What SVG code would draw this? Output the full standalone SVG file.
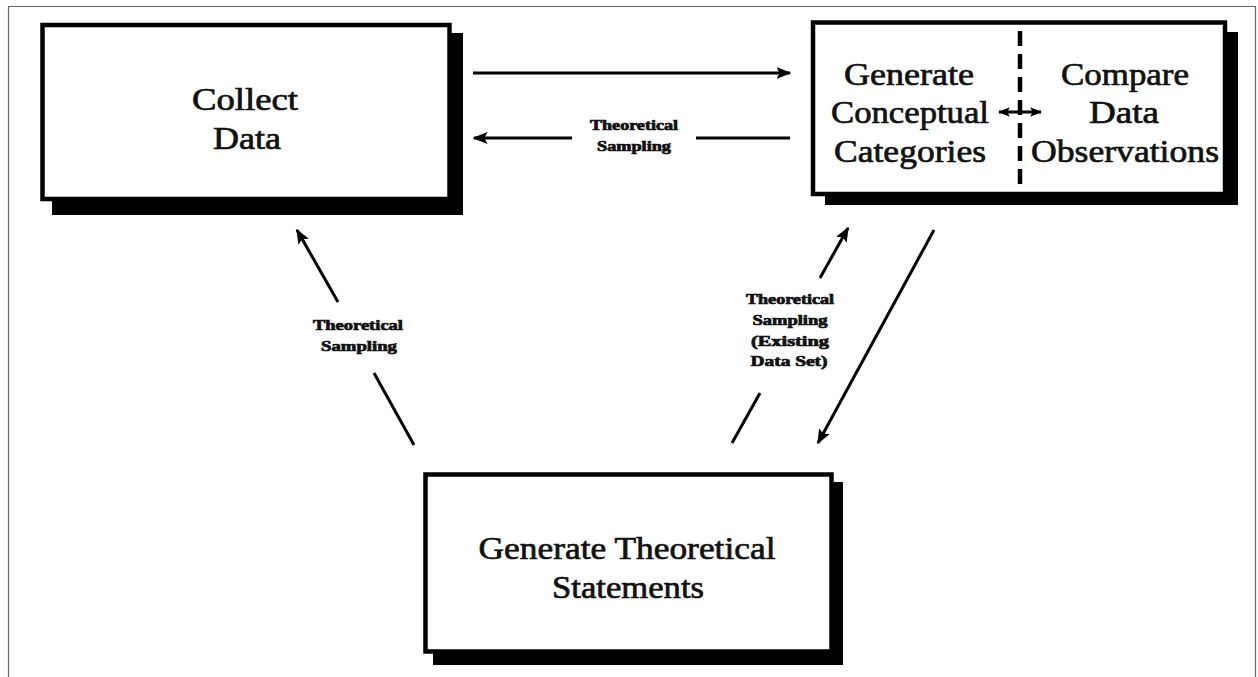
<svg xmlns="http://www.w3.org/2000/svg" width="1258" height="677" viewBox="0 0 1258 677">
  <defs>
    <style>
      .frame { fill: none; stroke: #6a6a6a; stroke-width: 1.2; }
      .box { fill: #fff; stroke: #000; stroke-width: 4.5; }
      .shadow { fill: #000; }
      .main { font-family: "Liberation Serif", "Times New Roman", serif; font-size: 32px; fill: #111; stroke: #111; stroke-width: 0.7; text-anchor: middle; }
      .lbl { font-family: "Liberation Serif", "Times New Roman", serif; font-weight: bold; font-size: 14px; fill: #111; stroke: #111; stroke-width: 0.7; text-anchor: middle; }
      .conn { fill: none; stroke: #000; stroke-width: 3; }
      .divider { stroke: #000; stroke-width: 4.5; stroke-dasharray: 15 8; }
    </style>
    <marker id="head" viewBox="0 0 10 10" refX="9" refY="5" markerWidth="5" markerHeight="5" orient="auto" markerUnits="strokeWidth">
      <path d="M0,1 L10,5 L0,9 L2,5 z" fill="#000"/>
    </marker>
    <marker id="headSmall" viewBox="0 0 10 10" refX="9" refY="5" markerWidth="4" markerHeight="4" orient="auto-start-reverse" markerUnits="strokeWidth">
      <path d="M0,1 L10,5 L0,9 L2,5 z" fill="#000"/>
    </marker>
  </defs>

  <rect width="1258" height="677" fill="#fff"/>
  <path class="frame" d="M8.5,690 V6.5 H1255.5 V690"/>

  <!-- Collect Data -->
  <g id="collect-data">
    <rect class="shadow" x="52" y="33" width="411" height="182"/>
    <rect class="box" x="42.5" y="25" width="407" height="174"/>
    <text class="main" x="245" y="110" textLength="106" lengthAdjust="spacingAndGlyphs">Collect</text>
    <text class="main" x="247" y="149" textLength="68" lengthAdjust="spacingAndGlyphs">Data</text>
  </g>

  <!-- Generate Conceptual Categories / Compare Data Observations -->
  <g id="categories">
    <rect class="shadow" x="825" y="32" width="413" height="173"/>
    <rect class="box" x="813" y="22.5" width="412" height="171.5"/>
    <line class="divider" x1="1020" y1="31" x2="1020" y2="186"/>
    <text class="main" x="909" y="85" textLength="130" lengthAdjust="spacingAndGlyphs">Generate</text>
    <text class="main" x="910" y="123" textLength="158" lengthAdjust="spacingAndGlyphs">Conceptual</text>
    <text class="main" x="910" y="162" textLength="152" lengthAdjust="spacingAndGlyphs">Categories</text>
    <text class="main" x="1125" y="85" textLength="128" lengthAdjust="spacingAndGlyphs">Compare</text>
    <text class="main" x="1124" y="123" textLength="70" lengthAdjust="spacingAndGlyphs">Data</text>
    <text class="main" x="1125" y="162" textLength="188" lengthAdjust="spacingAndGlyphs">Observations</text>
    <line class="conn" x1="999" y1="112" x2="1041" y2="112" stroke-width="2" marker-start="url(#headSmall)" marker-end="url(#headSmall)"/>
  </g>

  <!-- Generate Theoretical Statements -->
  <g id="statements">
    <rect class="shadow" x="433" y="482" width="410" height="183"/>
    <rect class="box" x="425.5" y="474.5" width="406" height="177"/>
    <text class="main" x="627" y="559" textLength="297" lengthAdjust="spacingAndGlyphs">Generate Theoretical</text>
    <text class="main" x="628" y="598" textLength="152" lengthAdjust="spacingAndGlyphs">Statements</text>
  </g>

  <!-- Connectors -->
  <g id="connectors">
    <line class="conn" x1="473" y1="73" x2="790" y2="73" marker-end="url(#head)"/>
    <line class="conn" x1="572" y1="138" x2="474" y2="138" marker-end="url(#head)"/>
    <line class="conn" x1="696" y1="138" x2="790" y2="138"/>
    <line class="conn" x1="338" y1="302" x2="297" y2="230" marker-end="url(#head)"/>
    <line class="conn" x1="374" y1="373" x2="414" y2="445"/>
    <line class="conn" x1="820" y1="278" x2="848" y2="228" marker-end="url(#head)"/>
    <line class="conn" x1="760" y1="393" x2="732" y2="443"/>
    <line class="conn" x1="934" y1="230" x2="818" y2="443" marker-end="url(#head)"/>
  </g>

  <!-- Connector labels -->
  <g id="labels">
    <text class="lbl" x="634" y="130" textLength="88" lengthAdjust="spacingAndGlyphs">Theoretical</text>
    <text class="lbl" x="634" y="151" textLength="74" lengthAdjust="spacingAndGlyphs">Sampling</text>
    <text class="lbl" x="358" y="330" textLength="90" lengthAdjust="spacingAndGlyphs">Theoretical</text>
    <text class="lbl" x="359" y="351" textLength="76" lengthAdjust="spacingAndGlyphs">Sampling</text>
    <text class="lbl" x="790" y="304" textLength="88" lengthAdjust="spacingAndGlyphs">Theoretical</text>
    <text class="lbl" x="790" y="325" textLength="75" lengthAdjust="spacingAndGlyphs">Sampling</text>
    <text class="lbl" x="790" y="346" textLength="78" lengthAdjust="spacingAndGlyphs">(Existing</text>
    <text class="lbl" x="789" y="366" textLength="77" lengthAdjust="spacingAndGlyphs">Data Set)</text>
  </g>
</svg>
